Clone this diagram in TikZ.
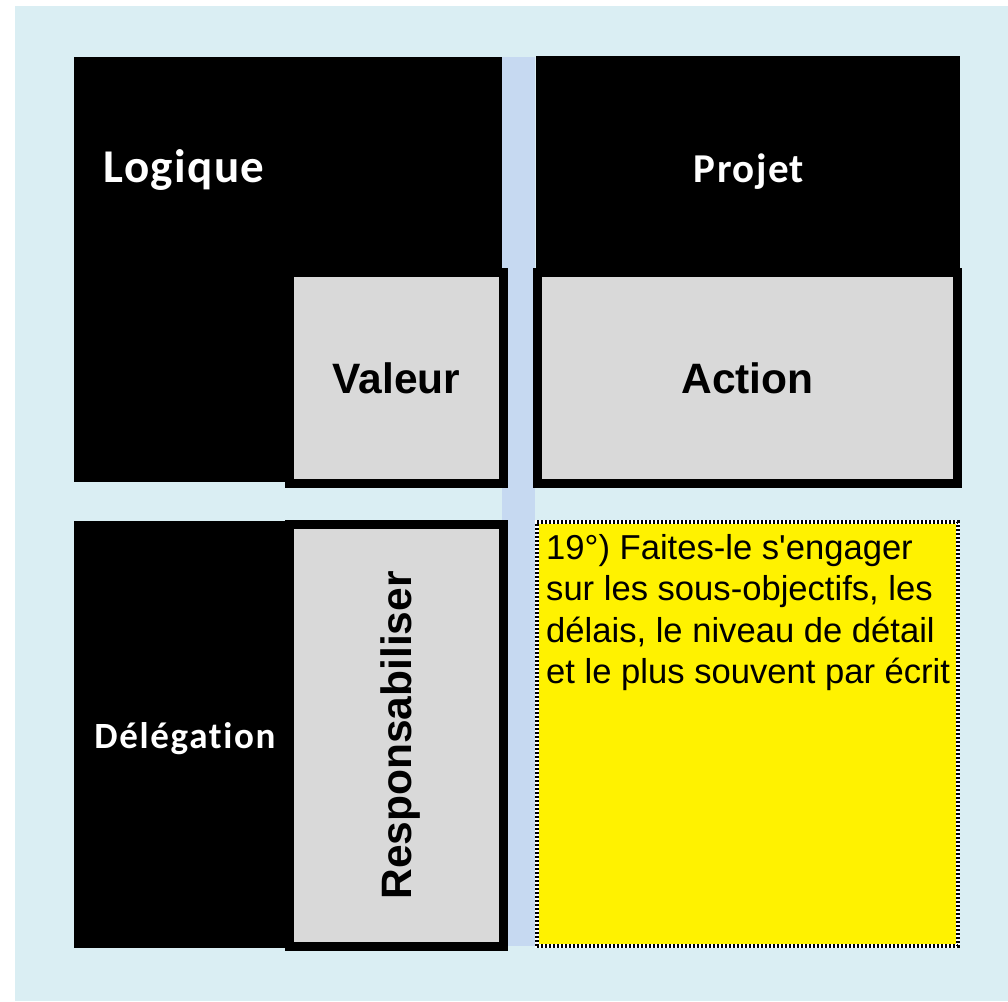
\documentclass[tikz,border=0pt]{standalone}
\usepackage{fontspec}
\usepackage{xcolor}
\newfontfamily\calib[Ligatures=NoCommon]{Carlito}
\newfontfamily\arial{Liberation Sans}
\definecolor{fondbleu}{HTML}{DAEEF3}
\definecolor{bande}{HTML}{C6D9F1}
\definecolor{gris}{HTML}{D9D9D9}

\begin{document}
\begin{tikzpicture}[x=1pt,y=-1pt,
  noir/.style={fill=black, draw=none, minimum width=#1},
  titre/.style={text=white, anchor=base, font=\calib\bfseries\fontsize{#1}{#1}\selectfont},
  case/.style={fill=gris, draw=black, line width=9pt, text depth=0pt,
    font=\arial\bfseries\fontsize{42.5}{42.5}\selectfont},
  note/.style={fill=yellow, draw=white, line width=4pt,
    postaction={draw=black, line width=4pt, dash pattern=on 2pt off 2pt}}]
\tikzstyle{every node}+=[inner sep=0pt]
\useasboundingbox (0,0) rectangle (1008,1001);
\fill [white] (0,0) rectangle (1008,1001);
\fill [fondbleu] (15,6) rectangle (1008,1001);
\fill [bande] (502,57) rectangle (535,946);
% blocs noirs
\node [noir=428.5, minimum height=425] (logiqueBox) at (287.75,269.5) {};
\node [noir=424, minimum height=216] (projetBox) at (748,164) {};
\node [noir=216.5, minimum height=427] (delegationBox) at (181.75,734.5) {};
\node [titre=47] (logique) at (184,182) {\addfontfeature{LetterSpace=3}Logique};
\node [titre=41] (projet) at (749,182) {\addfontfeature{LetterSpace=3.5}Projet};
\node [titre=37] (delegation) at (185,748) {\addfontfeature{LetterSpace=4.5}Délégation};
% cases grises
\node [case, minimum width=214, minimum height=211] (valeur) at (396.5,378) {Valeur};
\node [case, minimum width=420, minimum height=211] (action) at (747.5,378) {Action};
\node [case, rotate=90, minimum width=422, minimum height=214] (responsabiliser) at (396.5,735.5) {Responsabiliser};
% note jaune
\node [note, minimum width=421, minimum height=424] (noteBox) at (747.75,734.25) {};
\node [anchor=north west, align=left, font=\arial\fontsize{34.6}{41.5}\selectfont] (consigne) at (546,534)
  {19°) Faites-le s'engager\\sur les sous-objectifs, les\\délais, le niveau de détail\\et le plus souvent par écrit};
\end{tikzpicture}
\end{document}
